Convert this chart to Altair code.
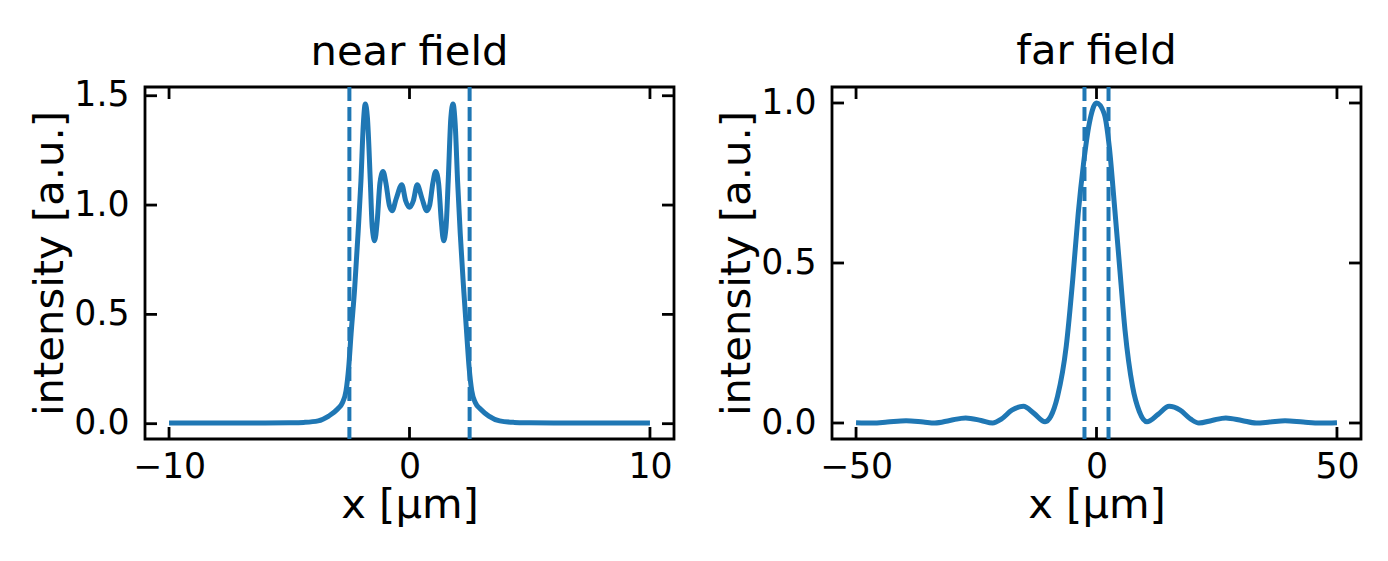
import altair as alt
import pandas as pd

# ---------------- data ----------------
near_x = [-10.0, -8.0, -6.0, -5.0, -4.4, -3.8, -3.36, -3.0, -2.79, -2.64, -2.53, -2.43,
          -2.28, -2.14, -2.02, -1.92, -1.84, -1.75, -1.63, -1.55, -1.45, -1.34, -1.23,
          -1.10, -0.98, -0.84, -0.72, -0.55, -0.32, -0.16, 0.0, 0.16, 0.32, 0.52, 0.72,
          0.84, 0.97, 1.09, 1.21, 1.32, 1.42, 1.52, 1.61, 1.72, 1.81, 1.90, 2.00, 2.11,
          2.25, 2.38, 2.48, 2.59, 2.74, 2.96, 3.30, 3.75, 4.35, 5.0, 6.0, 8.0, 10.0]
near_y = [0.003, 0.003, 0.003, 0.004, 0.006, 0.013, 0.035, 0.066, 0.096, 0.15, 0.256, 0.41,
          0.62, 0.87, 1.11, 1.37, 1.462, 1.40, 1.11, 0.90, 0.837, 0.93, 1.10,
          1.154, 1.10, 1.00, 0.974, 1.03, 1.093, 1.02, 0.99, 1.02, 1.093, 1.03, 0.974,
          1.00, 1.10, 1.154, 1.10, 0.93, 0.837, 0.90, 1.11, 1.40, 1.462, 1.37, 1.11, 0.87,
          0.62, 0.41, 0.256, 0.15, 0.096, 0.066, 0.035, 0.013, 0.006, 0.004, 0.003, 0.003, 0.003]

far_x = [-50.0, -46.5, -43.5, -39.6, -36.0, -33.6, -30.5, -27.2, -24.0, -21.6, -19.8, -17.6,
         -15.2, -13.0, -10.7, -9.5, -8.1, -6.3, -4.95, -3.8, -2.7, -1.5, 0.0, 1.6, 2.66, 3.7,
         4.74, 5.93, 7.5, 8.9, 10.5, 12.8, 15.1, 17.4, 19.6, 21.3, 24.0, 26.9, 30.2, 33.2, 36.0,
         39.2, 43.0, 46.5, 50.0]
far_y = [0.001, 0.0, 0.003, 0.007, 0.003, 0.0, 0.008, 0.016, 0.008, 0.0, 0.012, 0.040,
         0.052, 0.030, 0.004, 0.021, 0.083, 0.239, 0.447, 0.655, 0.81, 0.936, 1.0, 0.967, 0.863, 0.686,
         0.50, 0.29, 0.114, 0.036, 0.004, 0.027, 0.052, 0.040, 0.012, 0.0, 0.008, 0.016, 0.008, 0.0, 0.003,
         0.007, 0.003, 0.0, 0.001]

near_marks = [-2.5, 2.5]
far_marks = [-2.5, 2.5]

near_xticks = [-10, 0, 10]
near_yticks = [0.0, 0.5, 1.0, 1.5]
far_xticks = [-50, 0, 50]
far_yticks = [0.0, 0.5, 1.0]

titles = ["near field", "far field"]

# ---------------- style ----------------
W, H = 529, 352
BLUE = "#1f77b4"
FONT = "DejaVu Sans"
TICK = 12


def panel(title, xs, ys, marks, xticks, yticks, xdom, ydom, title_offset):
    xsc = alt.Scale(domain=xdom, nice=False, zero=False)
    ysc = alt.Scale(domain=ydom, nice=False, zero=False)
    curve = pd.DataFrame({"x": xs, "y": ys})
    line = alt.Chart(curve).mark_line(color=BLUE, strokeWidth=5, interpolate="monotone").encode(
        x=alt.X("x:Q", scale=xsc, title="x [µm]",
                axis=alt.Axis(values=xticks, format="d", labelPadding=11, titlePadding=1)),
        y=alt.Y("y:Q", scale=ysc, title="intensity [a.u.]",
                axis=alt.Axis(values=yticks, format=".1f", labelPadding=16, titlePadding=2)),
    )
    vlines = alt.Chart(pd.DataFrame({"x": marks})).mark_rule(
        color=BLUE, strokeWidth=4, strokeDash=[14, 6]
    ).encode(x=alt.X("x:Q", scale=xsc))

    xt = pd.DataFrame({"x": xticks})
    yt = pd.DataFrame({"y": yticks})
    tick_style = dict(color="black", strokeWidth=2.8)
    xt_bottom = alt.Chart(xt).mark_rule(**tick_style).encode(
        x=alt.X("x:Q", scale=xsc), y=alt.value(H - TICK), y2=alt.value(H))
    xt_top = alt.Chart(xt).mark_rule(**tick_style).encode(
        x=alt.X("x:Q", scale=xsc), y=alt.value(0), y2=alt.value(TICK))
    yt_left = alt.Chart(yt).mark_rule(**tick_style).encode(
        y=alt.Y("y:Q", scale=ysc), x=alt.value(0), x2=alt.value(TICK))
    yt_right = alt.Chart(yt).mark_rule(**tick_style).encode(
        y=alt.Y("y:Q", scale=ysc), x=alt.value(W - TICK), x2=alt.value(W))

    return alt.layer(line, vlines, xt_bottom, xt_top, yt_left, yt_right).properties(
        width=W, height=H,
        title=alt.TitleParams(title, fontSize=41.7, font=FONT, fontWeight="normal",
                              color="black", frame="group", offset=title_offset),
    )


left = panel(titles[0], near_x, near_y, near_marks, near_xticks, near_yticks,
             [-11, 11], [-0.07, 1.54], 4)
right = panel(titles[1], far_x, far_y, far_marks, far_xticks, far_yticks,
              [-55, 55], [-0.05, 1.05], 12)

chart = alt.hconcat(left, right, spacing=38).properties(
    padding={"left": 20, "top": 21, "right": 5, "bottom": 5},
    background="white",
).configure_view(
    stroke="black", strokeWidth=2.8
).configure_axis(
    domain=False, ticks=False, grid=False,
    labelFont=FONT, labelFontSize=34.7, labelColor="black",
    titleFont=FONT, titleFontSize=41.7, titleFontWeight="normal", titleColor="black",
)

chart.save("out.html", embed_options={"renderer": "svg", "actions": False})
